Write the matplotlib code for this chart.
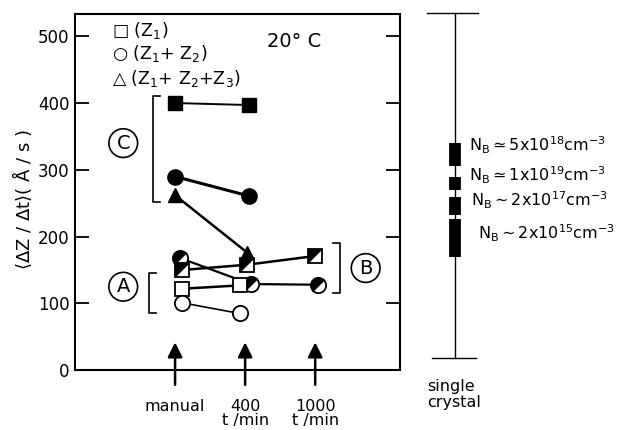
import matplotlib
matplotlib.use('Agg')
import matplotlib.pyplot as plt
from matplotlib.markers import MarkerStyle
from matplotlib.transforms import Affine2D

plt.rcParams['font.family'] = 'DejaVu Sans'
plt.rcParams['mathtext.fontset'] = 'dejavusans'

# x categories (arrow positions)
x_pos = [1, 2, 3]
x_labels = ['manual', '400\nt /min', '1000\nt /min']

# group C: filled markers
sq_fill_x = [1.0, 2.05]
sq_fill_y = [400, 397]
ci_fill_x = [1.0, 2.05]
ci_fill_y = [290, 261]
tr_fill_x = [1.0, 2.03]
tr_fill_y = [262, 176]

# group B: half filled markers
sq_half_x = [1.1, 2.03, 3.0]
sq_half_y = [150, 158, 171]
ci_half_x = [1.07, 2.08, 3.04]
ci_half_y = [168, 129, 128]

# group A: open markers
sq_open_x = [1.1, 1.92]
sq_open_y = [122, 127]
ci_open_x = [1.1, 1.92]
ci_open_y = [101, 85]

# single crystal reference bars (value ranges) and labels
sc_bars = [(305, 340), (270, 290), (233, 260), (170, 226)]
sc_labels = [r'N$_\mathrm{B}\simeq$5x10$^{18}$cm$^{-3}$',
             r'N$_\mathrm{B}\simeq$1x10$^{19}$cm$^{-3}$',
             r'N$_\mathrm{B}\sim$2x10$^{17}$cm$^{-3}$',
             r'N$_\mathrm{B}\sim$2x10$^{15}$cm$^{-3}$']
sc_label_y = [337, 292, 255, 205]
sc_label_x = [5.2, 5.2, 5.23, 5.33]

fig = plt.figure(figsize=(6.24, 4.30), dpi=100)
ax = fig.add_axes([0.120, 0.139, 0.521, 0.828])

# filled series
ax.plot(sq_fill_x, sq_fill_y, 'k-', lw=1.4, marker='s', ms=10, mfc='k', mec='k')
ax.plot(ci_fill_x, ci_fill_y, 'k-', lw=2.2, marker='o', ms=11, mfc='k', mec='k')
ax.plot(tr_fill_x, tr_fill_y, 'k-', lw=1.8, marker='^', ms=10, mfc='k', mec='k')

# half filled series
half_circle = MarkerStyle('o', fillstyle='left', transform=Affine2D().rotate_deg(-45))
ax.plot(ci_half_x, ci_half_y, 'k-', lw=1.6, marker=half_circle, ms=11,
        mfc='k', mfcalt='white', mec='k', mew=1.3)
ax.plot(sq_half_x, sq_half_y, 'k-', lw=1.8)
ax.plot(sq_half_x, sq_half_y, ls='none', marker='s', ms=10, mfc='white', mec='k', mew=1.3)
ax.plot(sq_half_x, sq_half_y, ls='none', marker=[(-1, -1), (-1, 1), (1, 1)], ms=10,
        mfc='k', mec='k', mew=0.5)

# open series
ax.plot(sq_open_x, sq_open_y, 'k-', lw=1.8, marker='s', ms=10, mfc='white', mec='k', mew=1.3)
ax.plot(ci_open_x, ci_open_y, 'k-', lw=1.2, marker='o', ms=11, mfc='white', mec='k', mew=1.3)

# brackets
def bracket(x, y0, y1, tick):
    ax.plot([x + tick, x, x, x + tick], [y0, y0, y1, y1], 'k-', lw=1.2, clip_on=False)

bracket(0.69, 252, 410, 0.1)
bracket(0.63, 85, 145, 0.1)
bracket(3.36, 115, 190, -0.1)

def circled(x, y, s):
    ax.text(x, y, s, fontsize=14, ha='center', va='center',
            bbox=dict(boxstyle='circle,pad=0.25', fc='white', ec='k', lw=1.2))

circled(0.26, 340, 'C')
circled(0.26, 125, 'A')
circled(3.72, 153, 'B')

# arrows marking the categories
for xp in x_pos:
    ax.annotate('', xy=(xp, 46), xytext=(xp, -26),
                arrowprops=dict(arrowstyle='-|>', lw=1.8, color='k', mutation_scale=22),
                annotation_clip=False)

# legend-like key and temperature
ax.text(0.1, 508, r'□ (Z$_1$)', fontsize=12.5, va='center')
ax.text(0.1, 474, r'○ (Z$_1$+ Z$_2$)', fontsize=12.5, va='center')
ax.text(0.1, 437, r'△ (Z$_1$+ Z$_2$+Z$_3$)', fontsize=12.5, va='center')
ax.text(2.7, 492, '20° C', fontsize=14, ha='center', va='center')

# single crystal column
ax.plot([5, 5], [18, 535], 'k-', lw=1.0, clip_on=False)
ax.plot([4.6, 5.33], [535, 535], 'k-', lw=1.0, clip_on=False)
ax.plot([4.66, 5.3], [18, 18], 'k-', lw=1.0, clip_on=False)
for y0, y1 in sc_bars:
    ax.plot([5, 5], [y0, y1], 'k-', lw=8.5, solid_capstyle='butt', clip_on=False)
for lx, ly, s in zip(sc_label_x, sc_label_y, sc_labels):
    ax.text(lx, ly, s, fontsize=11.5, va='center', ha='left')
ax.text(4.6, -36, 'single\ncrystal', fontsize=11.5, va='center', ha='left', linespacing=1.05)

ax.set_xlim(-0.43, 4.21)
ax.set_ylim(0, 533)
ax.set_yticks([0, 100, 200, 300, 400, 500])
ax.set_xticks(x_pos, x_labels)
ax.tick_params(axis='x', length=0, pad=21, labelsize=11.5)
for lab in ax.get_xticklabels():
    lab.set_linespacing(0.9)
ax.tick_params(axis='y', direction='in', length=10, width=1.3, right=True,
               labelsize=12, pad=4)
for sp in ax.spines.values():
    sp.set_linewidth(1.5)

fig.text(0.036, 0.535, r'$\langle\Delta$Z / $\Delta$t$\rangle$( Å / s )', rotation=90,
         fontsize=13, ha='center', va='center')

fig.savefig('out.png', dpi=100)
